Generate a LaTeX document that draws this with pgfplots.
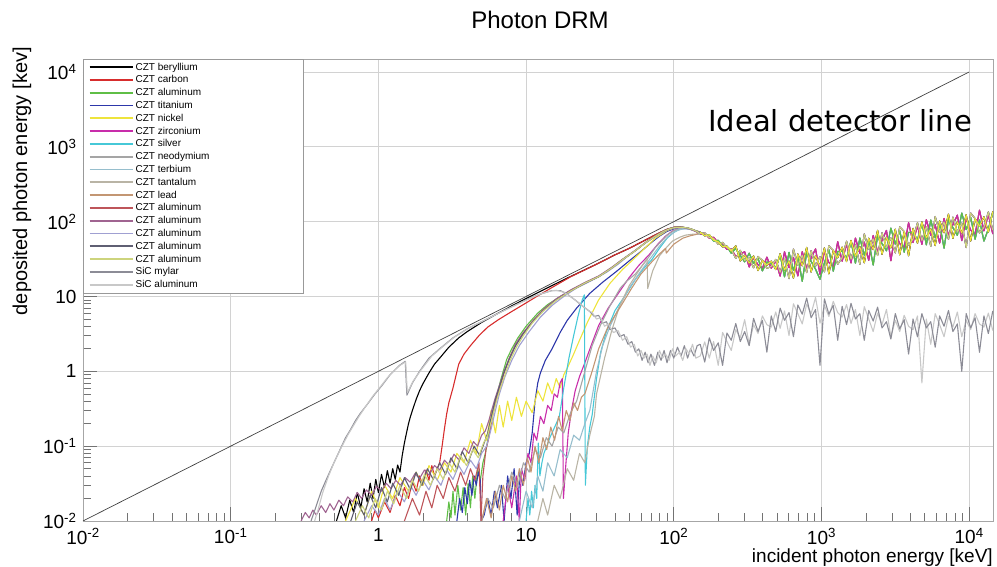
\documentclass[border=0pt]{standalone}
\usepackage{fontspec}
\setmainfont{Liberation Sans}
\newfontfamily\djv{DejaVu Sans}
\usepackage{pgfplots}
\usepackage{pgfplotstable}
\pgfplotsset{compat=1.18}
\definecolor{cBe}{RGB}{0,0,0}
\definecolor{cC}{RGB}{215,45,45}
\definecolor{cAl}{RGB}{95,190,70}
\definecolor{cTi}{RGB}{45,55,170}
\definecolor{cNi}{RGB}{238,228,60}
\definecolor{cZr}{RGB}{200,45,170}
\definecolor{cAg}{RGB}{70,200,215}
\definecolor{cNd}{RGB}{165,165,165}
\definecolor{cTb}{RGB}{150,190,205}
\definecolor{cTa}{RGB}{185,180,165}
\definecolor{cPb}{RGB}{195,150,115}
\definecolor{cAlA}{RGB}{190,85,90}
\definecolor{cAlB}{RGB}{160,100,145}
\definecolor{cAlC}{RGB}{160,160,210}
\definecolor{cAlD}{RGB}{95,95,115}
\definecolor{cAlE}{RGB}{205,212,125}
\definecolor{cMy}{RGB}{140,140,150}
\definecolor{cSiAl}{RGB}{200,200,200}
\newcommand{\lb}[1]{\makebox[160pt][l]{#1}}
\pgfplotstableread{
E a b c d s t
151 72.5 67.9 71.1 69.0 2.3 1.6
162 64.6 70.0 65.4 71.0 1.33 2.47
174 66.8 60.2 66.4 61.1 2.8 1.5
186 56.6 61.8 55.0 59.7 1.9 2.5
200 53.8 52.2 56.2 49.8 2.4 1.2
214 46.0 50.5 47.5 52.7 1.2 3.3
229 47.0 42.6 46.4 44.6 3.25 2.5
245 40.4 43.2 37.9 42.5 2.6 1.9
263 47.5 34.2 43.7 32.3 4.35 3.6
282 29.8 36.8 35.0 41.3 2.5 2.8
302 35.6 39.6 29.0 30.4 3.4 4.9
324 27.9 24.8 37.8 32.6 2.2 2.3
347 34.8 33.0 27.7 24.2 5.1 4.2
372 22.2 26.5 32.2 34.2 3.4 3.2
398 30.3 23.7 22.0 30.3 4.8 5.5
427 26.2 33.5 28.9 23.8 1.8 4.2
457 29.7 23.9 27.8 25.2 5.5 3.9
490 22.9 29.9 23.9 31.2 3.4 6.2
525 37.4 18.7 36.1 21.1 7.0 3.75
562 22.5 39.5 18.3 32.1 4.8 6.4
603 29.7 24.3 38.9 17.3 6.1 3.0
646 17.6 33.3 22.3 42.9 2.9 8.0
692 37.0 18.8 33.9 26.3 7.7 5.9
741 25.7 39.6 16.0 35.6 5.8 4.3
794 45.2 23.5 38.3 20.9 9.5 7.9
851 21.2 32.5 29.5 41.0 5.2 5.9
912 35.1 43.2 23.1 25.5 6.7 9.7
977 25.1 19.8 17.0 34.1 1.2 4.4
1047 44.5 40.0 28.2 21.4 9.3 7.6
1122 20.1 28.4 42.2 47.5 5.8 5.4
1202 41.1 25.2 21.8 41.1 7.6 8.6
1288 32.9 53.9 39.9 27.0 2.6 6.1
1380 45.6 29.6 40.2 32.9 7.4 5.3
1479 29.3 50.2 32.3 54.7 4.2 7.8
1585 56.2 28.1 54.2 31.6 8.1 4.35
1698 34.4 60.3 27.9 49.0 5.0 6.7
1820 46.2 37.8 60.5 26.9 5.9 3.0
1950 28.2 53.2 35.6 68.6 2.6 7.3
2089 60.1 30.5 55.1 42.8 6.5 5.0
2239 42.3 65.3 26.3 58.8 4.7 3.4
2399 76.4 39.7 64.7 35.3 7.2 6.0
2570 36.7 56.1 51.0 70.9 3.8 4.2
2754 62.0 76.3 40.8 45.0 4.6 6.7
2951 44.6 30.0 82.0 60.5 2.7 2.9
3162 79.2 71.3 50.2 38.2 5.9 4.8
3388 36.0 50.7 75.5 85.0 3.7 3.4
3631 73.8 45.1 39.0 73.8 4.9 5.6
3890 35.0 97.0 71.8 48.5 1.7 4.0
4169 81.3 52.7 71.5 58.5 5.0 3.6
4467 51.6 88.4 57.0 96.5 2.9 5.5
4786 99.4 49.7 95.9 55.9 5.9 0.7
5129 60.4 106 49.0 85.9 3.8 5.0
5495 80.3 65.7 105 46.7 4.6 2.3
5888 48.0 90.8 60.8 117 2.1 5.9
6310 102 51.6 93.2 72.4 5.5 4.2
6761 71.1 110 44.2 98.8 4.0 2.9
7244 126 65.6 107 58.3 6.5 5.4
7762 59.8 91.3 83.0 115 3.4 3.9
8318 99.5 122 65.5 72.3 4.3 6.2
8913 70.5 55.7 130 95.7 1.0 2.9
9550 124 111 78.3 45.0 5.9 4.8
10233 54.9 77.4 115 130 3.8 3.6
10965 110 67.3 58.2 110 5.2 5.9
11749 86.5 142 105 70.8 1.8 4.3
12589 116 75.3 55.0 83.7 5.5 3.9
13490 72.4 124 79.9 135 3.2 6.0
14454 137 68.4 132 77.0 6.4 3.5
}\tails
\begin{document}
\begin{tikzpicture}
\useasboundingbox (-83pt,-46pt) rectangle (914pt,521pt);
\begin{axis}[
  at={(0,0)}, anchor=south west,
  scale only axis, width=910pt, height=462pt,
  xmode=log, ymode=log,
  xmin=0.01, xmax=14500, ymin=0.01, ymax=14900,
  xtick={0.01,0.1,1,10,100,1000,10000},
  ytick={0.01,0.1,1,10,100,1000,10000},
  xticklabels={10\textsuperscript{-2},10\textsuperscript{-1},1,10,10\textsuperscript{2},10\textsuperscript{3},10\textsuperscript{4}},
  yticklabels={10\textsuperscript{-2},10\textsuperscript{-1},1,10,10\textsuperscript{2},10\textsuperscript{3},10\textsuperscript{4}},
  tick label style={font=\fontsize{19}{22}\selectfont, black},
  xticklabel style={yshift=-4pt},
  yticklabel style={xshift=-3pt},
  tick align=inside, tick pos=left,
  major tick length=14pt, minor tick length=8pt,
  every tick/.style={black!55, line width=0.6pt},
  grid=major, major grid style={gray!35, line width=0.9pt},
  axis line style={gray!70, line width=0.8pt},
  no markers,
  every axis plot/.append style={line width=1.1pt, line join=round},
  legend style={at={(0,1)}, anchor=north west, draw=gray!80, fill=white,
    font=\fontsize{10}{12}\selectfont, inner xsep=5.7pt, inner ysep=2pt,
    row sep=0pt, column sep=0pt,
    nodes={inner ysep=1.6pt, text height=7.4pt, text depth=2.2pt}},
  legend cell align=left,
  legend image code/.code={\draw[#1, line width=1.7pt] (0pt,0.5pt) -- (43pt,0.5pt);},
]
% 1 beryllium
\addplot[cBe] coordinates {(0.52,0.01)(0.56,0.016)(0.6,0.011)(0.64,0.019)(0.68,0.013)(0.72,0.024)(0.76,0.015)(0.8,0.027)(0.84,0.018)(0.88,0.032)(0.92,0.02)(0.96,0.036)(1.0,0.024)(1.05,0.042)(1.1,0.028)(1.15,0.047)(1.2,0.032)(1.25,0.05)(1.3,0.036)(1.35,0.056)(1.4,0.045)(1.45,0.075)(1.5,0.11)(1.55,0.15)(1.6,0.2)(1.65,0.25)(1.7,0.3)(1.8,0.42)(1.9,0.55)(2.0,0.68)(2.2,0.95)(2.4,1.25)(2.6,1.5)(3.0,2.1)(3.5,2.8)(4.0,3.4)(5,4.5)(6.6,6.1)(8,7.5)(10,9.4)(15,14)(20,18.5)(30,27)(40,36)(50,44)(60,53)(70,62)(80,71)(90,79)(100,84)(110,85)(120,83)(130,80)(140,76)(151,72.5)};
\addlegendentry{\lb{CZT beryllium}}
% 2 carbon
\addplot[cC] coordinates {(0.9,0.01)(0.95,0.014)(1.0,0.011)(1.1,0.018)(1.2,0.013)(1.3,0.022)(1.4,0.016)(1.5,0.028)(1.6,0.02)(1.7,0.034)(1.8,0.025)(1.9,0.04)(2.0,0.03)(2.1,0.048)(2.2,0.035)(2.3,0.055)(2.4,0.04)(2.5,0.05)(2.6,0.06)(2.7,0.1)(2.8,0.17)(2.9,0.27)(3.0,0.38)(3.2,0.6)(3.5,1.25)(3.8,1.7)(4.2,2.2)(4.8,3.0)(5.5,3.9)(6.5,4.9)(8,6.3)(10,8.2)(12,10.2)(15,13.2)(20,18.3)(30,27)(40,36)(50,44)(60,53)(70,62)(80,71)(90,79)(100,84)(110,85)(120,83)(130,79.5)(140,75)(151,67.9)};
\addlegendentry{\lb{CZT carbon}}
% 3 aluminum green
\addplot[cAl] coordinates {(2.9,0.01)(3.0,0.018)(3.1,0.011)(3.2,0.025)(3.3,0.012)(3.45,0.03)(3.6,0.014)(3.75,0.028)(3.9,0.012)(4.05,0.032)(4.2,0.015)(4.35,0.04)(4.5,0.02)(4.7,0.05)(4.9,0.035)(5.1,0.06)(5.3,0.08)(5.5,0.12)(5.8,0.22)(6.1,0.36)(6.4,0.52)(6.8,0.82)(7.4,1.45)(8.0,2.0)(8.8,2.8)(10,4.0)(12,6.0)(14,7.8)(16.8,9.8)(20,12)(25,15.2)(31,18.5)(38,24)(45,31)(55,41)(65,53)(75,64)(85,74)(95,81)(105,84.5)(115,84)(125,82)(135,78)(145,73)(151,71.1)};
\addlegendentry{\lb{CZT aluminum}}
% 4 titanium
\addplot[cTi] coordinates {(3.4,0.01)(3.55,0.02)(3.7,0.013)(3.85,0.028)(4.0,0.017)(4.15,0.035)(4.3,0.022)(4.45,0.04)(4.6,0.03)(4.75,0.045)(4.9,0.035)(4.97,0.01)(5.2,0.012)(5.5,0.02)(5.8,0.012)(6.1,0.025)(6.4,0.015)(6.8,0.03)(7.1,0.01)(7.5,0.04)(7.9,0.02)(8.3,0.05)(8.7,0.012)(9.1,0.045)(9.5,0.03)(10,0.06)(10.5,0.08)(11,0.15)(11.5,0.4)(12,0.7)(12.5,0.95)(13.5,1.4)(15,2.0)(17,3.3)(19,4.8)(22,7)(27,11)(33,15.5)(41,21.7)(50,30)(60,40)(70,52)(80,64)(90,74)(100,80)(110,83)(120,82)(130,79)(140,75)(151,69)};
\addlegendentry{\lb{CZT titanium}}
% 5 nickel
\addplot[cNi] coordinates {(0.6,0.01)(0.7,0.02)(0.8,0.012)(0.9,0.025)(1.0,0.015)(1.1,0.03)(1.25,0.02)(1.4,0.038)(1.6,0.025)(1.8,0.045)(2.0,0.03)(2.2,0.055)(2.5,0.035)(2.8,0.06)(3.1,0.045)(3.4,0.08)(3.8,0.06)(4.2,0.12)(4.6,0.08)(5.0,0.2)(5.4,0.12)(5.8,0.3)(6.2,0.15)(6.6,0.35)(7.0,0.18)(7.5,0.4)(8.0,0.22)(8.6,0.45)(9.3,0.25)(10,0.4)(11,0.28)(12,0.55)(13,0.4)(14,0.7)(15,0.5)(16,0.8)(17,0.6)(18,0.9)(19,1.1)(21,1.7)(23,2.6)(26,4.5)(31,9)(37,15)(45,23)(52,30)(62,42)(75,60)(90,76)(100,82)(110,84)(120,83)(130,80)(140,76)(151,72.5)};
\addlegendentry{\lb{CZT nickel}}
% 6 zirconium
\addplot[cZr] coordinates {(7,0.01)(7.5,0.03)(8,0.015)(8.6,0.04)(9.0,0.01)(9.3,0.05)(9.8,0.035)(10.3,0.08)(10.8,0.06)(11.3,0.15)(11.8,0.12)(12.5,0.25)(13.2,0.2)(14,0.35)(14.8,0.3)(15.5,0.5)(16.3,0.45)(17,0.7)(17.6,0.8)(17.9,0.02)(18.5,0.05)(19.3,0.15)(20.3,0.3)(21.5,0.55)(23,0.85)(25,1.3)(28,2.4)(31,4.1)(36,7)(43,11.7)(50,18)(58,26)(68,36)(78,50)(88,64)(98,75)(108,80)(120,81)(130,79)(140,74.5)(151,67.9)};
\addlegendentry{\lb{CZT zirconium}}
% 7 silver
\addplot[cAg] coordinates {(10,0.01)(10.3,0.02)(10.6,0.012)(10.9,0.025)(11.2,0.015)(11.5,0.03)(11.8,0.02)(12.1,0.11)(12.4,0.04)(12.8,0.06)(13.2,0.08)(13.8,0.1)(14.5,0.13)(15.2,0.16)(16,0.2)(16.8,0.25)(18,0.6)(19.5,1.5)(21,3)(22.5,5.5)(24,9)(24.8,10.5)(25.2,0.03)(26,0.1)(27,0.18)(28,0.26)(30,0.8)(32,1.8)(35,3.4)(40,6.5)(47,10.4)(55,17)(63,24)(71,31)(80,44)(90,60)(100,72)(110,79)(120,81)(130,79)(140,75)(151,71.1)};
\addlegendentry{\lb{CZT silver}}
% 8 neodymium
\addplot[cNd] coordinates {(5,0.01)(5.5,0.02)(6,0.015)(6.6,0.03)(7.2,0.02)(8,0.045)(8.8,0.03)(9.6,0.06)(10.5,0.045)(11.5,0.09)(12.5,0.07)(13.7,0.13)(15,0.1)(16.5,0.18)(18,0.15)(20,0.28)(22,0.4)(25,1)(28,2.2)(32,4.2)(37,7.5)(43.5,13)(48,16)(55,20)(65,30)(75,45)(90,66)(100,76)(110,81)(120,82)(130,79)(140,75)(151,69)};
\addlegendentry{\lb{CZT neodymium}}
% 9 terbium
\addplot[cTb] coordinates {(9,0.01)(10,0.025)(11,0.015)(12,0.04)(13,0.025)(14,0.06)(15.5,0.04)(17,0.09)(19,0.07)(21,0.14)(23,0.12)(25,0.2)(27,0.3)(30,1.0)(33,2.2)(37,4)(43,7.5)(50,13)(60,22)(70,33)(80,47)(92,64)(105,76)(115,80)(125,80)(135,77)(145,74)(151,72.5)};
\addlegendentry{\lb{CZT terbium}}
% 10 tantalum
\addplot[cTa] coordinates {(12,0.01)(13,0.02)(14,0.012)(15.5,0.03)(17,0.02)(19,0.05)(21,0.035)(23,0.08)(25,0.06)(27,0.14)(29,0.25)(30,0.5)(34,1.5)(38,3.5)(43,7.5)(50,14)(57,21)(62,27)(66,32)(66.6,12.8)(72,22)(80,35)(90,46)(98,55)(110,62)(120,66)(135,68)(151,67.9)};
\addlegendentry{\lb{CZT tantalum}}
% 11 lead
\addplot[cPb] coordinates {(5,0.01)(5.4,0.02)(5.8,0.011)(6.2,0.025)(6.6,0.014)(7,0.03)(7.5,0.018)(8,0.04)(8.5,0.025)(9,0.05)(9.6,0.03)(10.2,0.07)(10.8,0.045)(11.5,0.1)(12.2,0.06)(13,0.13)(13.8,0.09)(14.7,0.18)(15.6,0.12)(16.6,0.25)(17.6,0.16)(18.7,0.3)(19.8,0.22)(21,0.38)(22.3,0.3)(23.7,0.45)(25,0.5)(28,1.0)(31,2.0)(36,4)(43,7)(52,13)(60,20)(71,29)(80,37)(88,44)(89,38)(100,50)(115,60)(130,65)(140,67)(151,71.1)};
\addlegendentry{\lb{CZT lead}}
% 12 aluminum (red)
\addplot[cAlA] coordinates {(1.5,0.01)(1.7,0.02)(1.9,0.012)(2.1,0.025)(2.3,0.015)(2.5,0.03)(2.75,0.02)(3.0,0.038)(3.3,0.025)(3.6,0.045)(3.9,0.03)(4.2,0.05)(4.5,0.035)(4.8,0.06)(4.95,0.01)(5.1,0.04)(5.35,0.09)(5.6,0.13)(5.9,0.24)(6.2,0.38)(6.6,0.58)(7.1,0.95)(7.7,1.5)(8.5,2.3)(9.5,3.2)(11,4.6)(13,6.6)(16,9.2)(20,12)(25,15)(31,18.5)(38,24)(45,31)(55,41)(65,53)(75,64)(85,74)(95,81)(105,84)(115,84)(125,81)(135,77)(145,72)(151,69)};
\addlegendentry{\lb{CZT aluminum}}
% 13 aluminum (mauve)
\addplot[cAlB] coordinates {(0.3,0.010)(0.32,0.013)(0.34,0.011)(0.36,0.014)(0.38,0.012)(0.41,0.016)(0.44,0.013)(0.47,0.017)(0.5,0.014)(0.54,0.019)(0.58,0.016)(0.62,0.021)(0.67,0.018)(0.72,0.024)(0.77,0.02)(0.83,0.026)(0.9,0.022)(0.97,0.029)(1.05,0.025)(1.13,0.032)(1.22,0.027)(1.31,0.035)(1.41,0.03)(1.52,0.038)(1.64,0.033)(1.77,0.043)(1.9,0.037)(2.05,0.048)(2.2,0.041)(2.4,0.055)(2.6,0.048)(2.8,0.065)(3.0,0.056)(3.25,0.078)(3.5,0.066)(3.8,0.095)(4.1,0.08)(4.4,0.115)(4.7,0.1)(5.0,0.14)(5.3,0.16)(5.6,0.22)(5.9,0.32)(6.2,0.45)(6.6,0.65)(7.1,1.0)(7.7,1.5)(8.5,2.3)(9.5,3.2)(11,4.6)(13,6.6)(16,9.3)(20,12.2)(25,15.4)(31,18.8)(38,24.5)(45,31.5)(55,41.5)(65,53.5)(75,64.5)(85,74.5)(95,81)(105,84.5)(115,84)(125,82)(135,78)(145,73.5)(151,72.5)};
\addlegendentry{\lb{CZT aluminum}}
% 14 aluminum (lavender)
\addplot[cAlC] coordinates {(0.8,0.01)(0.9,0.016)(1.0,0.012)(1.1,0.02)(1.2,0.014)(1.35,0.025)(1.5,0.018)(1.65,0.03)(1.8,0.022)(2.0,0.035)(2.2,0.026)(2.4,0.04)(2.65,0.03)(2.9,0.048)(3.2,0.036)(3.5,0.055)(3.8,0.042)(4.2,0.065)(4.6,0.05)(5.0,0.08)(5.4,0.1)(5.8,0.17)(6.2,0.3)(6.6,0.5)(7.2,0.85)(8,1.4)(9,2.2)(10.5,3.4)(12.5,5.3)(15,7.6)(18,10)(22,13)(28,16.5)(35,21)(42,27)(50,36)(60,47)(70,58)(80,68)(90,77)(100,82)(110,84)(120,83)(130,80)(140,75.5)(151,67.9)};
\addlegendentry{\lb{CZT aluminum}}
% 15 aluminum (slate)
\addplot[cAlD] coordinates {(0.65,0.01)(0.72,0.018)(0.8,0.012)(0.88,0.022)(0.96,0.015)(1.05,0.028)(1.15,0.018)(1.25,0.032)(1.37,0.022)(1.5,0.038)(1.65,0.026)(1.8,0.045)(1.97,0.03)(2.15,0.05)(2.35,0.036)(2.6,0.06)(2.85,0.042)(3.1,0.07)(3.4,0.05)(3.7,0.085)(4.05,0.06)(4.45,0.1)(4.85,0.075)(5.2,0.11)(5.5,0.15)(5.85,0.26)(6.2,0.42)(6.6,0.62)(7.1,0.98)(7.7,1.45)(8.5,2.2)(9.5,3.1)(11,4.5)(13,6.4)(16,9)(20,11.8)(25,15)(31,18.3)(38,24)(45,31)(55,41)(65,53)(75,64)(85,74)(95,81)(105,84)(115,84)(125,82)(135,78)(145,73)(151,71.1)};
\addlegendentry{\lb{CZT aluminum}}
% 16 aluminum (yellow-green)
\addplot[cAlE] coordinates {(0.7,0.01)(0.78,0.016)(0.86,0.011)(0.95,0.02)(1.05,0.014)(1.15,0.025)(1.27,0.017)(1.4,0.03)(1.55,0.02)(1.7,0.035)(1.87,0.025)(2.05,0.042)(2.25,0.03)(2.5,0.05)(2.75,0.036)(3.0,0.06)(3.3,0.045)(3.6,0.075)(3.95,0.055)(4.35,0.09)(4.75,0.07)(5.15,0.11)(5.5,0.14)(5.9,0.24)(6.3,0.4)(6.7,0.6)(7.2,0.9)(7.8,1.4)(8.6,2.1)(9.6,3.0)(11,4.4)(13,6.3)(16,8.9)(20,11.8)(25,15.1)(31,18.4)(38,24)(45,31)(55,41)(65,53)(75,64)(85,74)(95,81)(105,84)(115,84)(125,82)(135,78)(145,73)(151,69)};
\addlegendentry{\lb{CZT aluminum}}
% 17 SiC mylar
\addplot[cMy] coordinates {(0.35,0.01)(0.38,0.016)(0.41,0.025)(0.45,0.038)(0.49,0.055)(0.55,0.09)(0.6,0.13)(0.64,0.16)(0.7,0.22)(0.75,0.27)(0.83,0.35)(0.95,0.5)(1.06,0.65)(1.2,0.9)(1.3,1.05)(1.39,1.2)(1.52,1.36)(1.56,0.48)(1.7,0.7)(1.9,1.0)(2.2,1.5)(2.6,2.0)(3.2,2.8)(4,3.7)(5,4.6)(6.5,6)(8,7.3)(10,9)(12,10.5)(15,12)(17,12)(18.7,11)(21,9.3)(24,7.5)(27,6.3)(29,5.4)(31,5.6)(33,4.4)(35,4.6)(37,3.6)(40,3.8)(43,2.9)(46,3.1)(49,2.3)(52,2.5)(55,1.8)(58,2.0)(61,1.4)(64,1.8)(67,1.3)(70,1.7)(74,1.2)(78,1.8)(82,1.4)(86,1.9)(90,1.3)(95,1.9)(100,1.5)(106,2.1)(112,1.6)(118,2.2)(124,1.5)(130,2.0)(137,1.6)(144,2.2)(151,2.3)};
\addlegendentry{\lb{SiC mylar}}
% 18 SiC aluminum
\addplot[cSiAl] coordinates {(0.37,0.01)(0.39,0.014)(0.42,0.024)(0.46,0.04)(0.5,0.06)(0.56,0.095)(0.62,0.14)(0.68,0.19)(0.74,0.25)(0.82,0.34)(0.92,0.47)(1.03,0.62)(1.15,0.82)(1.28,1.03)(1.4,1.2)(1.53,1.34)(1.57,0.52)(1.72,0.74)(1.95,1.05)(2.3,1.6)(2.7,2.1)(3.3,2.9)(4.1,3.8)(5.2,4.8)(6.8,6.2)(8.5,7.7)(10.5,9.3)(12.5,10.8)(14.5,11.8)(16,12.1)(18,11.4)(20,10)(23,8.1)(26,6.6)(28,6.1)(30,5.0)(32,5.2)(34,4.0)(36,4.3)(39,3.3)(42,3.5)(45,2.6)(48,2.9)(51,2.1)(54,2.3)(57,1.6)(60,1.9)(63,1.5)(66,1.7)(69,1.2)(72,1.6)(76,1.3)(80,1.9)(84,1.5)(88,1.7)(93,1.4)(98,2.0)(103,1.6)(109,1.8)(115,1.4)(121,2.0)(127,1.7)(134,2.3)(141,1.5)(151,1.6)};
\addlegendentry{\lb{SiC aluminum}}
% tails
\addplot[cSiAl, forget plot] table[x=E, y=t] {\tails};
\addplot[cMy, forget plot] table[x=E, y=s] {\tails};
\addplot[cNd, forget plot] table[x=E, y=d] {\tails};
\addplot[cTb, forget plot] table[x=E, y=a] {\tails};
\addplot[cTa, forget plot] table[x=E, y=b] {\tails};
\addplot[cPb, forget plot] table[x=E, y=c] {\tails};
\addplot[cAlA, forget plot] table[x=E, y=d] {\tails};
\addplot[cAlB, forget plot] table[x=E, y=a] {\tails};
\addplot[cAlC, forget plot] table[x=E, y=b] {\tails};
\addplot[cAlD, forget plot] table[x=E, y=c] {\tails};
\addplot[cC, forget plot] table[x=E, y=b] {\tails};
\addplot[cBe, forget plot] table[x=E, y=a] {\tails};
\addplot[cAg, forget plot] table[x=E, y=c] {\tails};
\addplot[cTi, forget plot] table[x=E, y=d] {\tails};
\addplot[cZr, forget plot] table[x=E, y=b] {\tails};
\addplot[cAl, forget plot] table[x=E, y=c] {\tails};
\addplot[cAlE, forget plot] table[x=E, y=d] {\tails};
\addplot[cNi, forget plot] table[x=E, y=a] {\tails};
% ideal line
\addplot[black!75, line width=0.7pt, forget plot] coordinates {(0.01,0.01)(10000,10000)};
\end{axis}
\node[font=\fontsize{24}{28}\selectfont] at (457pt,501pt) {Photon DRM};
\node[anchor=west, inner sep=0pt, font=\djv\fontsize{29}{34}\selectfont] at (625pt,400pt) {Ideal detector line};
\node[rotate=90, anchor=east, inner sep=0pt, font=\fontsize{20}{24}\selectfont] at (-61pt,474pt) {deposited photon energy [kev]};
\node[anchor=base east, inner sep=0pt, font=\fontsize{19}{22}\selectfont] at (910pt,-42pt) {incident photon energy [keV]};
\end{tikzpicture}
\end{document}
